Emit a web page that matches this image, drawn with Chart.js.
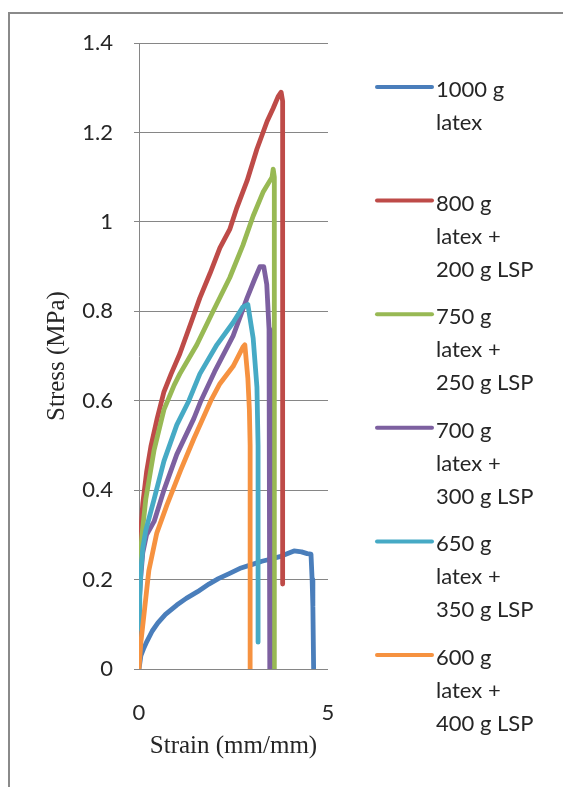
<!DOCTYPE html>
<html>
<head>
<meta charset="utf-8">
<title>Stress-strain</title>
<script src="https://cdn.jsdelivr.net/npm/chart.js@4.4.1/dist/chart.umd.min.js"></script>
<style>
  html, body { margin: 0; padding: 0; background: #fff; }
  #wrap { position: relative; width: 563px; height: 787px; }
  #frame {
    position: absolute; left: 8px; top: 12px; right: 0; bottom: 0;
    border-left: 2px solid #8a8a8a; border-top: 2px solid #8a8a8a;
    pointer-events: none;
  }
</style>
</head>
<body>
<div id="wrap">
  <canvas id="chart" width="563" height="787"></canvas>
  <div id="frame"></div>
</div>
<script>
// series names and colours (legend order)
const seriesLabels = [
  '1000 g\nlatex',
  '800 g\nlatex +\n200 g LSP',
  '750 g\nlatex +\n250 g LSP',
  '700 g\nlatex +\n300 g LSP',
  '650 g\nlatex +\n350 g LSP',
  '600 g\nlatex +\n400 g LSP'
];
const seriesColors = ['#4a7ebb', '#be4b48', '#98b954', '#7d60a0', '#46aac5', '#f69240'];

// strain (mm/mm) and stress (MPa)
const strain1000 = [0, 0.05, 0.12, 0.21, 0.35, 0.5, 0.7, 1.0, 1.25, 1.55, 1.85, 2.1, 2.4, 2.7, 3.0, 3.25, 3.5, 3.75, 3.95, 4.1, 4.3, 4.45, 4.55, 4.58, 4.6, 4.62];
const stress1000 = [0, 0.03, 0.045, 0.062, 0.085, 0.103, 0.122, 0.143, 0.158, 0.173, 0.19, 0.202, 0.214, 0.226, 0.234, 0.241, 0.246, 0.252, 0.259, 0.264, 0.262, 0.258, 0.257, 0.2, 0.14, 0];

const strain800 = [0, 0.04, 0.1, 0.2, 0.32, 0.48, 0.66, 0.85, 1.08, 1.4, 1.61, 1.88, 2.14, 2.4, 2.59, 2.86, 3.12, 3.39, 3.55, 3.68, 3.76, 3.8, 3.8];
const stress800 = [0.22, 0.3, 0.37, 0.44, 0.5, 0.56, 0.62, 0.66, 0.705, 0.78, 0.83, 0.885, 0.942, 0.983, 1.032, 1.092, 1.163, 1.225, 1.254, 1.28, 1.29, 1.27, 0.19];

const strain750 = [0, 0.04, 0.08, 0.18, 0.4, 0.66, 0.93, 1.08, 1.53, 1.96, 2.4, 2.75, 3.02, 3.28, 3.52, 3.55, 3.58, 3.58];
const stress750 = [0.18, 0.26, 0.3, 0.38, 0.49, 0.58, 0.635, 0.66, 0.725, 0.8, 0.875, 0.948, 1.013, 1.066, 1.1, 1.118, 1.1, 0];

const strain700 = [0, 0.04, 0.1, 0.2, 0.4, 0.66, 1.0, 1.45, 1.64, 2.0, 2.49, 2.86, 3.05, 3.2, 3.3, 3.38, 3.44, 3.46, 3.46];
const stress700 = [0.14, 0.2, 0.26, 0.3, 0.33, 0.4, 0.48, 0.56, 0.6, 0.665, 0.745, 0.83, 0.87, 0.9, 0.9, 0.86, 0.76, 0.6, 0];

const strain650 = [0, 0.02, 0.05, 0.1, 0.18, 0.4, 0.66, 1.0, 1.32, 1.61, 2.06, 2.49, 2.75, 2.88, 3.02, 3.12, 3.15, 3.15];
const stress650 = [0.09, 0.16, 0.22, 0.27, 0.31, 0.38, 0.465, 0.546, 0.6, 0.66, 0.725, 0.775, 0.81, 0.815, 0.74, 0.63, 0.5, 0.06];

const strain600 = [0, 0.05, 0.13, 0.26, 0.47, 0.74, 1.1, 1.45, 1.9, 2.14, 2.49, 2.75, 2.8, 2.88, 2.92, 2.94, 2.94];
const stress600 = [0, 0.06, 0.12, 0.22, 0.304, 0.367, 0.444, 0.515, 0.6, 0.638, 0.677, 0.72, 0.725, 0.65, 0.58, 0.5, 0];

const strainSeries = [strain1000, strain800, strain750, strain700, strain650, strain600];
const stressSeries = [stress1000, stress800, stress750, stress700, stress650, stress600];

// axis ticks
const xTicks = [0, 5];
const yTicks = [0, 0.2, 0.4, 0.6, 0.8, 1, 1.2, 1.4];

const datasets = seriesLabels.map(function(label, i) {
  return {
    label: label,
    data: strainSeries[i].map(function(x, j) { return { x: x, y: stressSeries[i][j] }; }),
    borderColor: seriesColors[i],
    backgroundColor: seriesColors[i],
    borderWidth: 4.8,
    pointRadius: 0,
    showLine: true,
    tension: 0,
    borderJoinStyle: 'round',
    order: seriesLabels.length - 1 - i // later series on top, as in the original
  };
});

// legend drawn at the right, one block per series
const sideLegend = {
  id: 'sideLegend',
  afterDraw: function(chart) {
    const ctx = chart.ctx;
    ctx.save();
    ctx.font = '22px Lato';
    ctx.fillStyle = '#262626';
    ctx.textBaseline = 'alphabetic';
    chart.data.datasets.forEach(function(ds, i) {
      const top = 87 + i * 113.6;
      ctx.strokeStyle = ds.borderColor;
      ctx.lineWidth = 4;
      ctx.lineCap = 'round';
      ctx.beginPath();
      ctx.moveTo(377, top);
      ctx.lineTo(432, top);
      ctx.stroke();
      ds.label.split('\n').forEach(function(line, j) {
        ctx.fillText(line, 436, top + 10 + j * 33);
      });
    });
    ctx.restore();
  }
};

const ctx = document.getElementById('chart').getContext('2d');
new Chart(ctx, {
  type: 'scatter',
  data: { datasets: datasets },
  options: {
    responsive: false,
    animation: false,
    devicePixelRatio: 1,
    layout: { padding: { left: 0, top: 43, right: 235, bottom: 0 } },
    plugins: {
      legend: { display: false },
      tooltip: { enabled: false }
    },
    scales: {
      x: {
        type: 'linear',
        min: 0,
        max: 5,
        afterBuildTicks: function(scale) { scale.ticks = xTicks.map(function(v) { return { value: v }; }); },
        afterFit: function(scale) { scale.height = 118; },
        grid: { display: false },
        border: { display: false },
        ticks: {
          padding: 23, color: '#262626', font: { family: 'Lato', size: 22 },
          callback: function(v) { return String(v); }
        },
        title: {
          display: true,
          text: 'Strain (mm/mm)',
          color: '#262626',
          font: { family: 'Liberation Serif', size: 25 },
          padding: { top: 0, bottom: 26 }
        }
      },
      y: {
        type: 'linear',
        min: 0,
        max: 1.4,
        afterBuildTicks: function(scale) { scale.ticks = yTicks.map(function(v) { return { value: v }; }); },
        afterFit: function(scale) { scale.width = 139; },
        grid: { color: '#868686', lineWidth: 1, tickLength: 5 },
        border: { display: true, color: '#868686', width: 1 },
        ticks: {
          padding: 21, color: '#262626', font: { family: 'Lato', size: 22 },
          callback: function(v) { return String(v); }
        },
        title: {
          display: true,
          text: 'Stress (MPa)',
          color: '#262626',
          font: { family: 'Liberation Serif', size: 25 },
          padding: { top: 42, bottom: 0 }
        }
      }
    }
  },
  plugins: [sideLegend]
});
</script>
</body>
</html>
